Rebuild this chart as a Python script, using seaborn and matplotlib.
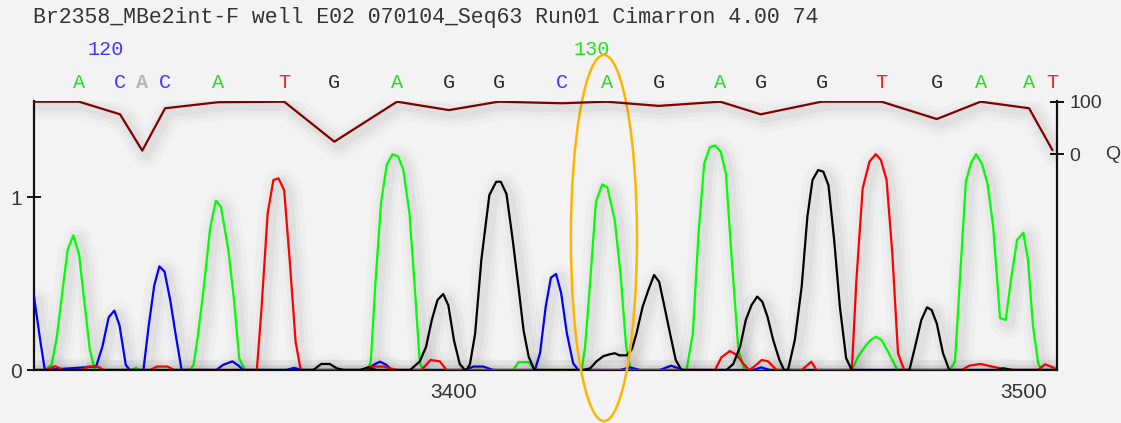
import matplotlib
matplotlib.use("Agg")
import matplotlib.pyplot as plt
import matplotlib.patheffects as pe
from matplotlib.patches import Ellipse
import seaborn as sns

# header text
title = "Br2358_MBe2int-F well E02 070104_Seq63 Run01 Cimarron 4.00 74"

# called bases, their scan positions and quality values
bases = list("ACACATGAGGCAGAGGTGAAT")
base_scans = [3334.3, 3341.5, 3345.4, 3349.4, 3358.7, 3370.3, 3379.1, 3390.1, 3399.2,
              3407.9, 3419.0, 3426.9, 3436.0, 3446.8, 3453.9, 3464.6, 3475.1, 3484.8,
              3492.5, 3501.0, 3505.1]
quality = [100, 76, 7, 87.5, 99, 100, 24, 100, 84, 100, 97, 100, 92, 100, 76, 100, 100,
           67, 100, 87.5, 8]
faded_base = 2  # the grey, bold A
pos_labels = {1: "120", 11: "130"}
x_start, x_end = 3326.4, 3505.9

# trace vertices (scan, intensity)
trace_A = [(3326.4, 0), (3328.3, 0), (3329.5, 0.03), (3330.4, 0.19), (3331.4, 0.46), (3332.3, 0.695),
           (3333.3, 0.78), (3334.3, 0.67), (3335.2, 0.405), (3336.2, 0.116), (3337.1, 0),
           (3343.6, 0), (3344.3, 0.012), (3345.0, 0), (3353.8, 0), (3354.4, 0.03), (3355.2, 0.21),
           (3356.2, 0.48), (3357.3, 0.82), (3358.3, 0.98), (3359.2, 0.946), (3360.5, 0.695),
           (3361.5, 0.405), (3362.4, 0.068), (3363.4, 0), (3385.0, 0), (3385.5, 0.05),
           (3386.3, 0.5), (3387.3, 0.97), (3388.3, 1.19), (3389.3, 1.25), (3390.3, 1.236),
           (3391.2, 1.16), (3392.3, 0.9), (3393.2, 0.48), (3394.1, 0.04), (3394.7, 0),
           (3410.5, 0), (3411.4, 0.045), (3413.2, 0.045), (3414.3, 0), (3422.5, 0),
           (3423.1, 0.135), (3424.0, 0.52), (3425.0, 0.975), (3426.1, 1.075), (3427.0, 1.058),
           (3428.3, 0.868), (3429.3, 0.56), (3430.3, 0.135), (3431.1, 0), (3440.9, 0),
           (3442.0, 0.212), (3443.0, 0.79), (3444.0, 1.197), (3445.0, 1.29), (3445.9, 1.30),
           (3446.9, 1.264), (3447.8, 1.139), (3448.8, 0.656), (3450.0, 0.116), (3451.1, 0),
           (3469.9, 0), (3471.0, 0.077), (3472.2, 0.135), (3473.1, 0.17), (3474.1, 0.193),
           (3475.1, 0.174), (3476.1, 0.116), (3477.0, 0.058), (3477.9, 0), (3487.1, 0),
           (3488.0, 0.048), (3489.0, 0.6), (3489.9, 1.09), (3490.8, 1.197), (3491.7, 1.25),
           (3492.7, 1.197), (3493.7, 1.08), (3494.7, 0.83), (3495.9, 0.3), (3496.9, 0.29),
           (3497.9, 0.54), (3498.9, 0.753), (3500.0, 0.795), (3500.8, 0.637), (3501.7, 0.25),
           (3502.6, 0.039), (3503.2, 0), (3505.9, 0)]

trace_C = [(3326.4, 0.425), (3327.5, 0.17), (3328.3, 0), (3337.3, 0.02), (3338.4, 0.135),
           (3339.5, 0.305), (3340.5, 0.344), (3341.4, 0.259), (3342.5, 0.03), (3343.2, 0),
           (3345.6, 0), (3346.5, 0.25), (3347.5, 0.49), (3348.4, 0.60), (3349.3, 0.57),
           (3350.3, 0.405), (3351.3, 0.197), (3352.3, 0), (3358.4, 0), (3359.6, 0.03),
           (3361.2, 0.05), (3362.3, 0.025), (3363.1, 0), (3370.7, 0), (3372.0, 0.012),
           (3373.5, 0), (3384.8, 0), (3386.0, 0.03), (3387.1, 0.048), (3388.2, 0.03),
           (3389.2, 0), (3402.0, 0), (3403.5, 0.02), (3405.2, 0.02), (3407.0, 0),
           (3414.3, 0), (3415.2, 0.10), (3416.2, 0.37), (3417.1, 0.535), (3418.0, 0.556),
           (3418.9, 0.445), (3419.9, 0.212), (3421.0, 0.039), (3421.9, 0), (3429.2, 0),
           (3431.0, 0.015), (3432.7, 0), (3436.2, 0), (3438.2, 0.025), (3440.3, 0),
           (3452.6, 0), (3454.0, 0.015), (3455.5, 0), (3505.9, 0)]

trace_G = [(3326.4, 0), (3375.4, 0), (3376.8, 0.035), (3378.3, 0.035), (3379.5, 0.01), (3380.7, 0),
           (3383.6, 0), (3385.0, 0.015), (3386.5, 0), (3392.4, 0), (3394.1, 0.05), (3395.2, 0.135),
           (3396.2, 0.29), (3397.2, 0.405), (3398.2, 0.44), (3399.1, 0.375), (3400.1, 0.17),
           (3401.1, 0.035), (3402.0, 0), (3402.3, 0), (3402.9, 0.035), (3403.8, 0.21),
           (3404.9, 0.64), (3406.3, 1.013), (3407.5, 1.09), (3408.3, 1.09), (3409.3, 1.02),
           (3410.4, 0.753), (3411.4, 0.483), (3412.3, 0.23), (3413.2, 0.077), (3414.2, 0),
           (3422.8, 0), (3424.0, 0.01), (3425.1, 0.05), (3426.3, 0.08), (3427.3, 0.09),
           (3428.3, 0.097), (3429.1, 0.085), (3430.4, 0.085), (3431.3, 0.12), (3432.1, 0.21),
           (3433.2, 0.367), (3434.2, 0.463), (3435.2, 0.55), (3436.1, 0.51), (3436.9, 0.386),
           (3438.0, 0.212), (3439.0, 0.058), (3440.0, 0), (3447.9, 0), (3449.1, 0.035),
           (3450.3, 0.135), (3451.3, 0.29), (3452.3, 0.376), (3453.3, 0.425), (3454.2, 0.395),
           (3455.1, 0.309), (3456.1, 0.174), (3457.2, 0.058), (3458.0, 0), (3458.7, 0),
           (3459.9, 0.174), (3461.1, 0.483), (3462.1, 0.888), (3463.0, 1.1), (3464.0, 1.158),
           (3464.9, 1.148), (3465.8, 1.07), (3466.8, 0.753), (3467.8, 0.367), (3468.9, 0.068),
           (3469.9, 0), (3480.0, 0), (3481.0, 0.135), (3482.1, 0.29), (3483.1, 0.363),
           (3483.9, 0.347), (3484.8, 0.27), (3485.9, 0.097), (3487.0, 0), (3495.3, 0),
           (3496.5, 0.01), (3498.0, 0), (3505.9, 0)]

trace_T = [(3326.4, 0), (3328.6, 0), (3330.1, 0.022), (3331.5, 0), (3334.8, 0), (3335.8, 0.02),
           (3337.6, 0.02), (3338.6, 0), (3346.8, 0), (3348.0, 0.02), (3349.8, 0.02), (3351.0, 0),
           (3365.5, 0), (3366.3, 0.347), (3367.4, 0.907), (3368.4, 1.1), (3369.3, 1.11),
           (3370.3, 1.04), (3371.3, 0.62), (3372.3, 0.164), (3373.2, 0), (3384.0, 0),
           (3385.5, 0.02), (3387.7, 0.02), (3390.0, 0), (3394.4, 0), (3396.0, 0.058),
           (3397.6, 0.05), (3398.8, 0), (3445.9, 0), (3447.0, 0.073), (3448.5, 0.11),
           (3449.7, 0.087), (3450.8, 0.039), (3451.9, 0), (3452.6, 0.015), (3454.1, 0.058),
           (3455.2, 0.05), (3456.7, 0), (3461.1, 0), (3462.8, 0.048), (3463.7, 0), (3469.9, 0),
           (3470.7, 0.52), (3471.8, 1.052), (3473.0, 1.207), (3474.1, 1.25), (3475.0, 1.216),
           (3476.0, 1.1), (3477.0, 0.676), (3478.0, 0.097), (3479.1, 0), (3489.2, 0),
           (3490.5, 0.025), (3492.5, 0.035), (3494.5, 0.02), (3496.5, 0.006), (3498.2, 0),
           (3502.6, 0), (3503.8, 0.033), (3505.2, 0.015), (3505.9, 0)]

trace_colors = {"A": "#00ff00", "C": "#0000ff", "G": "#000000", "T": "#ff0000"}
letter_colors = {"A": "#22e022", "C": "#3a3aff", "G": "#2a2a2a", "T": "#ff2020"}
traces = {"A": trace_A, "C": trace_C, "G": trace_G, "T": trace_T}

sns.set_style("white")
plt.rcParams["font.family"] = ["Liberation Sans", "DejaVu Sans"]


def soft_shadow():
    fx = [pe.SimpleLineShadow(offset=(3, -3), shadow_color="#000000", alpha=a, linewidth=w)
          for w, a in ((20, 0.02), (13, 0.025), (7, 0.03))]
    return fx + [pe.Normal()]


fig = plt.figure(figsize=(11.21, 4.23), dpi=100, facecolor="#f3f3f3")
ax = fig.add_axes([34 / 1121, 53 / 423, 1023 / 1121, 269 / 423])
ax.patch.set_alpha(0)

for base in ["A", "C", "T", "G"]:
    xs = [p[0] for p in traces[base]]
    ys = [p[1] for p in traces[base]]
    sns.lineplot(x=xs, y=ys, ax=ax, color=trace_colors[base], lw=1.6, sort=False,
                 estimator=None, path_effects=soft_shadow(), zorder=3)

ax.set_xlim(x_start, x_end)
ax.set_ylim(0, 1.5576)
ax.set_xticks([3400, 3500])
ax.set_yticks([0, 1])
ax.set_yticklabels(["0", "1"])
ax.tick_params(direction="inout", length=10, width=1.4, color="#111111",
               labelcolor="#333333", labelsize=15, pad=4)
for side in ["top", "right"]:
    ax.spines[side].set_visible(False)
for side in ["left", "bottom"]:
    ax.spines[side].set_linewidth(1.6)
    ax.spines[side].set_color("#111111")
ax.set_xlabel("")
ax.set_ylabel("")

# quality line on its own scale
axq = ax.twinx()
axq.patch.set_alpha(0)
sns.lineplot(x=[x_start] + base_scans, y=[100] + quality, ax=axq, color="#800000", lw=1.6,
             sort=False, estimator=None, path_effects=soft_shadow(), zorder=3)
axq.set_ylim(-410, 101.3)
axq.set_yticks([0, 100])
axq.tick_params(direction="inout", length=10, width=1.4, color="#111111",
                labelcolor="#333333", labelsize=14, pad=4)
for side in ["top", "left", "bottom"]:
    axq.spines[side].set_visible(False)
axq.spines["right"].set_linewidth(1.6)
axq.spines["right"].set_color("#111111")
axq.set_ylabel("")
axq.annotate("Q", xy=(1, 0), xycoords=("axes fraction", "data"), xytext=(48, 0),
             textcoords="offset pixels", ha="left", va="center", fontsize=14, color="#333333")

# base calls and position numbers
for i, (b, s) in enumerate(zip(bases, base_scans)):
    if i == faded_base:
        ax.text(s, 1.662, b, ha="center", va="center", fontsize=14.5, family="Liberation Mono",
                color="#b8b8b8", fontweight="bold", clip_on=False)
    else:
        ax.text(s, 1.662, b, ha="center", va="center", fontsize=14.5, family="Liberation Mono",
                color=letter_colors[b], clip_on=False)
for i, lab in pos_labels.items():
    ax.text(base_scans[i] + 0.6, 1.853, lab, ha="right", va="center", fontsize=14.5,
            family="Liberation Mono", color=letter_colors[bases[i]], clip_on=False)

# highlighted base
ax.add_patch(Ellipse((3426.4, 0.764), width=11.6, height=2.12, fill=False,
                     edgecolor="#ffb400", lw=1.8, clip_on=False, zorder=5))

fig.text(33 / 1121, 1 - 17 / 423, title, ha="left", va="center", fontsize=15.5,
         family="Liberation Mono", color="#333333")

fig.savefig("out.png", dpi=100, facecolor=fig.get_facecolor())
